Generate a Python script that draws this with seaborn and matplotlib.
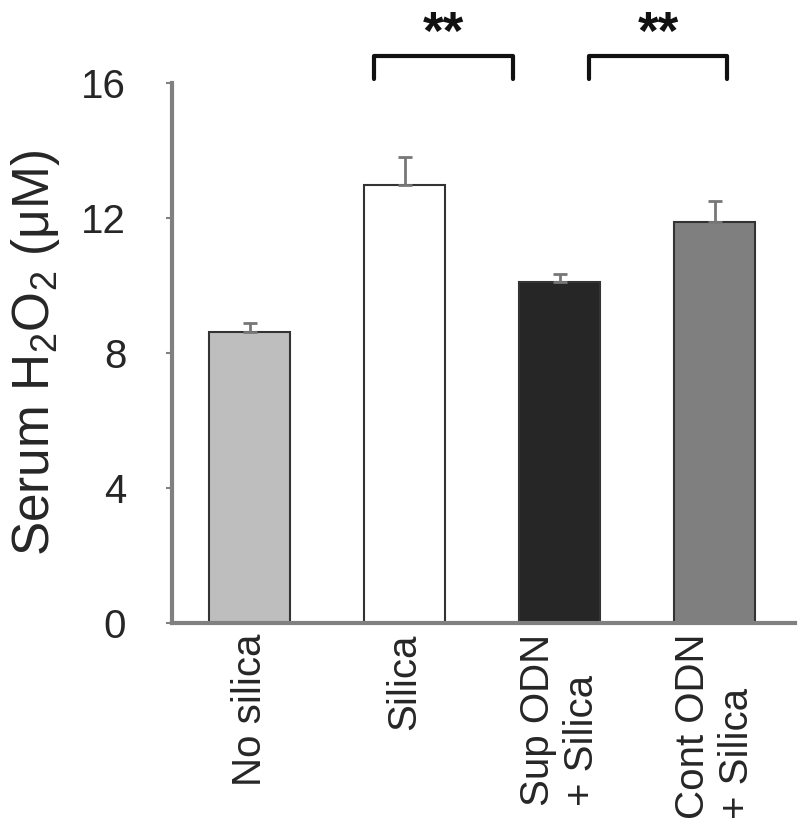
import numpy as np
import pandas as pd
import seaborn as sns
import matplotlib.pyplot as plt

groups = ['No silica', 'Silica', 'Sup ODN\n+ Silica', 'Cont ODN\n+ Silica']
h2o2 = [8.62, 12.98, 10.10, 11.88]
sem = [0.27, 0.83, 0.24, 0.62]
bar_colors = ['#bebebe', '#ffffff', '#262626', '#7f7f7f']
yticks = [0, 4, 8, 12, 16]

sns.set_theme(style='ticks')
plt.rcParams['font.family'] = ['Liberation Sans', 'DejaVu Sans']
plt.rcParams['mathtext.default'] = 'regular'

df = pd.DataFrame({'group': groups, 'h2o2': h2o2})

fig = plt.figure(figsize=(8, 8.26), dpi=100)
ax = fig.add_axes([0.215, 0.246, 0.779, 0.654])
sns.barplot(data=df, x='group', y='h2o2', hue='group', palette=bar_colors,
            legend=False, width=0.52, edgecolor='#333333', linewidth=1.5,
            saturation=1, ax=ax)
ax.errorbar(np.arange(len(groups)), h2o2, yerr=[np.zeros(len(sem)), sem],
            fmt='none', ecolor='#777777', elinewidth=2, capsize=5, capthick=2)

ax.set_ylim(0, 16)
ax.set_xlim(-0.5, 3.52)
ax.set_yticks(yticks)
ax.tick_params(axis='y', labelsize=29, length=4, width=1.5, color='#808080', pad=29)
ax.tick_params(axis='x', labelsize=29, length=0, pad=8)
plt.setp(ax.get_xticklabels(), rotation=90, multialignment='left')
ax.set_xlabel('')
ax.set_ylabel('Serum H$_2$O$_2$ (μM)', fontsize=37, labelpad=14)
sns.despine(ax=ax)
for side in ['left', 'bottom']:
    ax.spines[side].set_color('#808080')
    ax.spines[side].set_linewidth(3)

# significance brackets
for x0, x1 in [(0.80, 1.70), (2.19, 3.08)]:
    ax.plot([x0, x0, x1, x1], [16.1, 16.78, 16.78, 16.1], color='#111111', lw=3, clip_on=False)
    ax.text((x0 + x1) / 2, 17.0, '**', ha='center', va='baseline', fontsize=38,
            fontweight='bold', color='#111111')

fig.savefig('out.png', dpi=100)
